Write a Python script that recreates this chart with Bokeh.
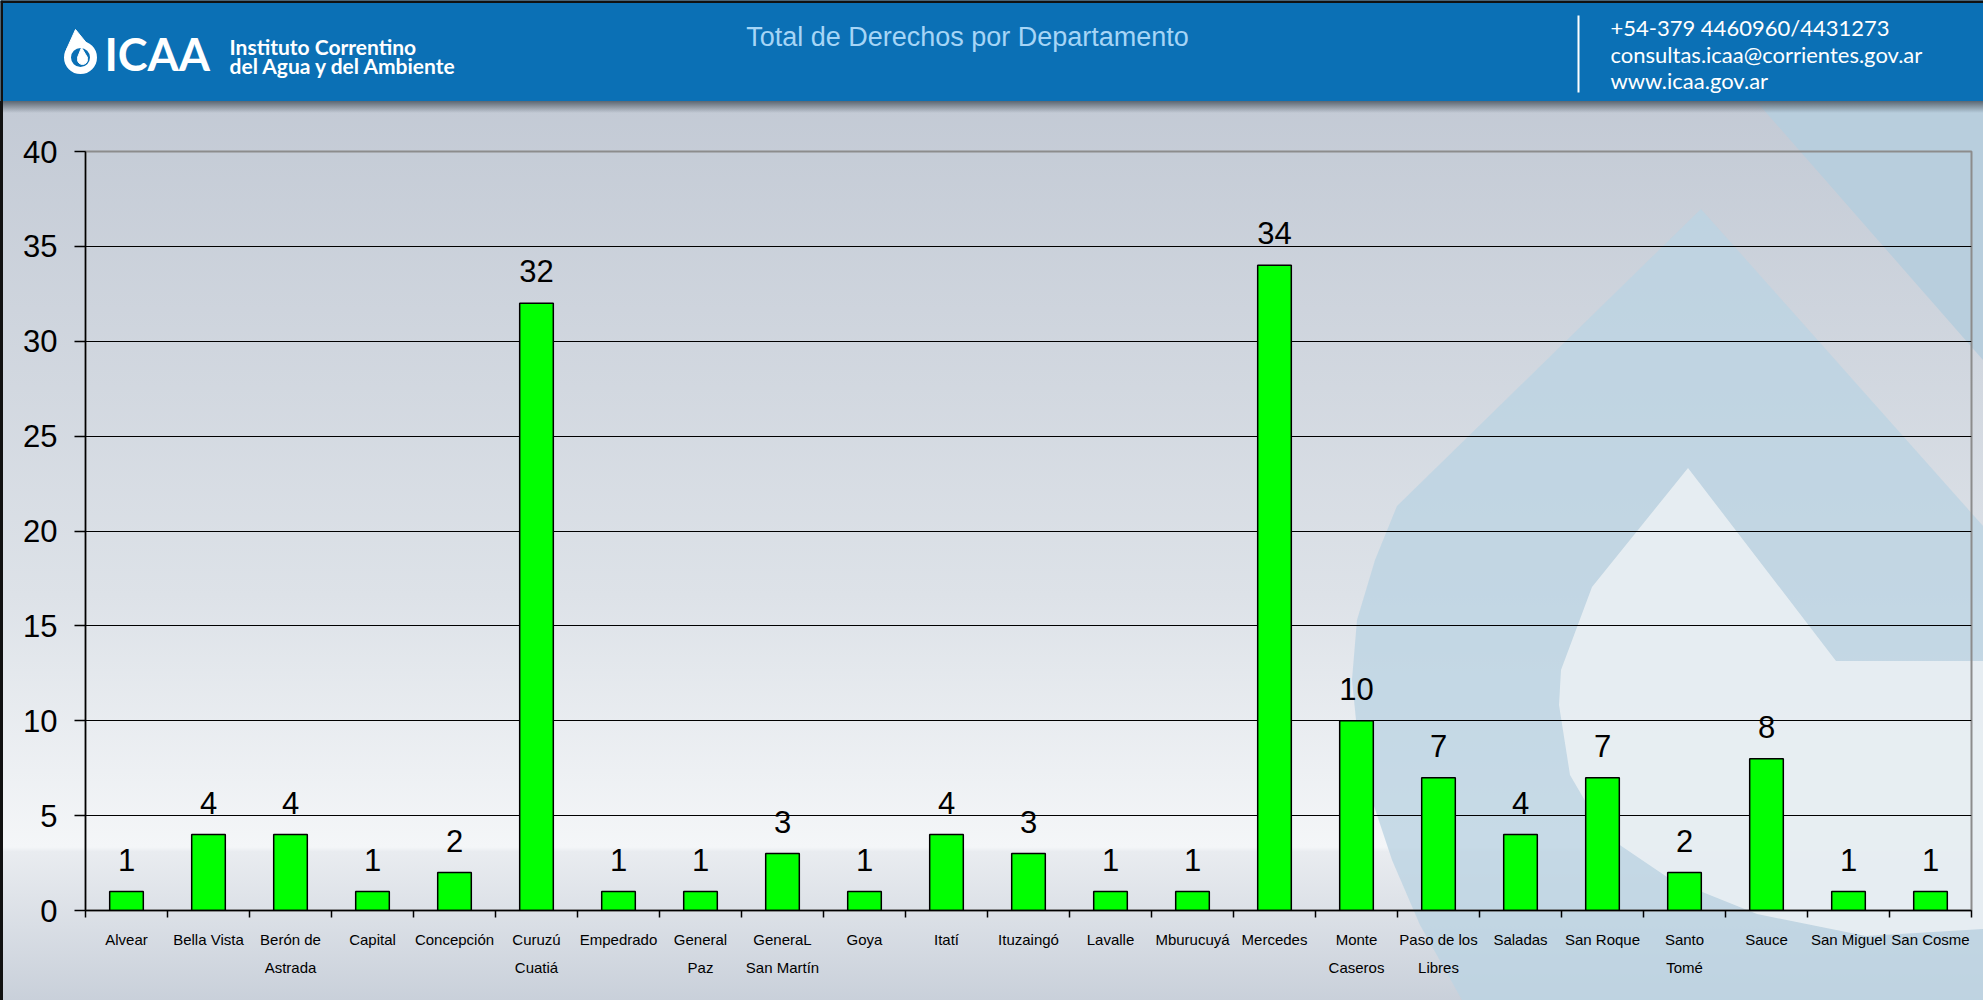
from urllib.parse import quote
from bokeh.plotting import figure
from bokeh.layouts import column, row
from bokeh.models import Range1d, FixedTicker
from bokeh.core.properties import value
from bokeh.embed import file_html
from bokeh.resources import INLINE

# ---------------- data ----------------
departamentos = ["Alvear", "Bella Vista", "Berón de\nAstrada", "Capital", "Concepción",
                 "Curuzú\nCuatiá", "Empedrado", "General\nPaz", "GeneraL\nSan Martín", "Goya",
                 "Itatí", "Ituzaingó", "Lavalle", "Mburucuyá", "Mercedes", "Monte\nCaseros",
                 "Paso de los\nLibres", "Saladas", "San Roque", "Santo\nTomé", "Sauce",
                 "San Miguel", "San Cosme"]
derechos = [1, 4, 4, 1, 2, 32, 1, 1, 3, 1, 4, 3, 1, 1, 34, 10, 7, 4, 7, 2, 8, 1, 1]
y_ticks = [0, 5, 10, 15, 20, 25, 30, 35, 40]
titulo = "Total de Derechos por Departamento"
contacto = ["+54-379 4460960/4431273", "consultas.icaa@corrientes.gov.ar", "www.icaa.gov.ar"]
instituto = ["Instituto Correntino", "del Agua y del Ambiente"]

W = 1983
HH = 101
MH = 899
BLUE = "#0b70b5"

# ---------------- header ----------------
h = figure(width=W, height=HH, x_range=Range1d(0, W), y_range=Range1d(HH, 0),
           output_backend="svg", toolbar_location=None, min_border=0,
           x_axis_location=None, y_axis_location=None)
h.grid.visible = False
h.outline_line_color = None
h.background_fill_color = BLUE
h.border_fill_color = BLUE

# thin dark frame of the slide (left / top)
h.segment(x0=[1, 0], y0=[0, 1], x1=[1, W], y1=[HH, 1], line_color="#111111", line_width=3)

# logo drop icon
h.circle(x=[80], y=[57], radius=13, fill_color=None, line_color="white", line_width=7)
h.patch(x=[66, 75, 88], y=[49, 29, 45], fill_color="white", line_color="white")
h.circle(x=[82], y=[59], radius=5, fill_color="white", line_color="white")
h.patch(x=[77, 81, 87], y=[57, 47, 57], fill_color="white", line_color="white")
h.text(x=[104], y=[53], text=["ICAA"], text_font=value("Lato"), text_font_style="bold",
       text_font_size="45px", text_color="white", text_baseline="middle")
h.text(x=[229, 229], y=[46, 65], text=instituto, text_font=value("Lato"), text_font_style="bold",
       text_font_size="21px", text_color="white", text_baseline="middle")
h.text(x=[967], y=[36], text=[titulo], text_font=value("Liberation Sans"), text_font_size="27px",
       text_color="#a6d5f6", text_align="center", text_baseline="middle")
h.segment(x0=[1578], y0=[15], x1=[1578], y1=[92], line_color="white", line_width=2)
h.text(x=[1610] * 3, y=[27, 54, 80], text=contacto, text_font=value("Lato"),
       text_font_size="22px", text_color="white", text_baseline="middle")

# ---------------- background (decorative watermark) ----------------
def pts(lst):
    return " ".join(f"{a},{b - HH}" for a, b in lst)

band = [(1756, 101), (1983, 101), (1983, 360)]
outer = [(1701, 209), (1983, 526), (1983, 1000), (1462, 1000), (1420, 925), (1392, 860),
         (1372, 800), (1358, 740), (1352, 680), (1357, 620), (1375, 560), (1397, 506)]
inner = [(1688, 468), (1836, 661), (1983, 661), (1983, 929), (1866, 936), (1757, 914),
         (1670, 879), (1605, 835), (1570, 775), (1559, 705), (1561, 670), (1592, 587)]
svg = (
    f"<svg xmlns='http://www.w3.org/2000/svg' width='{W}' height='{MH}' viewBox='0 0 {W} {MH}' preserveAspectRatio='none'>"
    "<defs><linearGradient id='g' x1='0' y1='0' x2='0' y2='1'>"
    "<stop offset='0' stop-color='#c3cad5'/>"
    "<stop offset='0.55' stop-color='#dde2e8'/>"
    "<stop offset='0.83' stop-color='#f4f6f8'/>"
    "<stop offset='0.835' stop-color='#e9ecf0'/>"
    "<stop offset='1' stop-color='#c9d0da'/>"
    "</linearGradient>"
    "<linearGradient id='s' x1='0' y1='0' x2='0' y2='1'>"
    "<stop offset='0' stop-color='#4a5560' stop-opacity='0.85'/>"
    "<stop offset='1' stop-color='#4a5560' stop-opacity='0'/>"
    "</linearGradient></defs>"
    f"<rect width='{W}' height='{MH}' fill='url(#g)'/>"
    f"<polygon points='{pts(band)}' fill='#b8cedd'/>"
    f"<polygon points='{pts(outer)}' fill='#bcd3e2' fill-opacity='0.8'/>"
    f"<polygon points='{pts(inner)}' fill='#eaeff3' fill-opacity='0.9'/>"
    f"<rect width='{W}' height='12' fill='url(#s)'/>"
    f"<rect width='3' height='{MH}' fill='#111111'/>"
    "</svg>"
)
bg_css = 'url("data:image/svg+xml,' + quote(svg) + '")'

# ---------------- main chart ----------------
idx = list(range(len(departamentos)))
p = figure(width=W, height=MH, x_range=Range1d(-0.5, len(departamentos) - 0.5),
           y_range=Range1d(0, 40), output_backend="svg", toolbar_location=None,
           min_border_left=85, min_border_right=12, min_border_top=50, min_border_bottom=90,
           styles={"background-image": bg_css, "background-size": "100% 100%"})
p.background_fill_color = None
p.border_fill_color = None
p.outline_line_color = "#8c8c8c"
p.outline_line_width = 2

p.vbar(x=idx, top=derechos, width=0.41, fill_color="#00ff00", line_color="black", line_width=1.5)
p.text(x=idx, y=derechos, text=[str(v) for v in derechos], text_align="center",
       text_baseline="alphabetic", y_offset=-32, text_font=value("Liberation Sans"),
       text_font_size="31px", text_color="black")

# x axis: labels at centres, ticks at boundaries
xa = p.xaxis[0]
xa.ticker = FixedTicker(ticks=idx, minor_ticks=[i - 0.5 for i in range(len(departamentos) + 1)])
xa.major_label_overrides = {i: n for i, n in zip(idx, departamentos)}
xa.major_tick_out = 0
xa.major_tick_in = 0
xa.minor_tick_out = 7
xa.minor_tick_in = 0
xa.minor_tick_line_color = "black"
xa.minor_tick_line_width = 1.5
xa.axis_line_color = "black"
xa.axis_line_width = 1.5
xa.major_label_text_font = "Liberation Sans"
xa.major_label_text_font_size = "15px"
xa.major_label_text_line_height = 1.7
xa.major_label_text_color = "black"
xa.major_label_standoff = 13

ya = p.yaxis[0]
ya.ticker = FixedTicker(ticks=y_ticks)
ya.major_tick_out = 11
ya.major_tick_in = 0
ya.minor_tick_line_color = None
ya.major_tick_line_color = "black"
ya.major_tick_line_width = 1.5
ya.axis_line_color = "black"
ya.axis_line_width = 1.5
ya.major_label_text_font = "Liberation Sans"
ya.major_label_text_font_size = "31px"
ya.major_label_text_color = "black"
ya.major_label_standoff = 17

p.xgrid.visible = False
p.ygrid.ticker = FixedTicker(ticks=y_ticks[1:-1])
p.ygrid.grid_line_color = "black"
p.ygrid.grid_line_width = 1.2

layout = column(row(h, spacing=0), p, spacing=0)
open("out.html", "w").write(file_html(layout, INLINE, title="Total de Derechos por Departamento"))
